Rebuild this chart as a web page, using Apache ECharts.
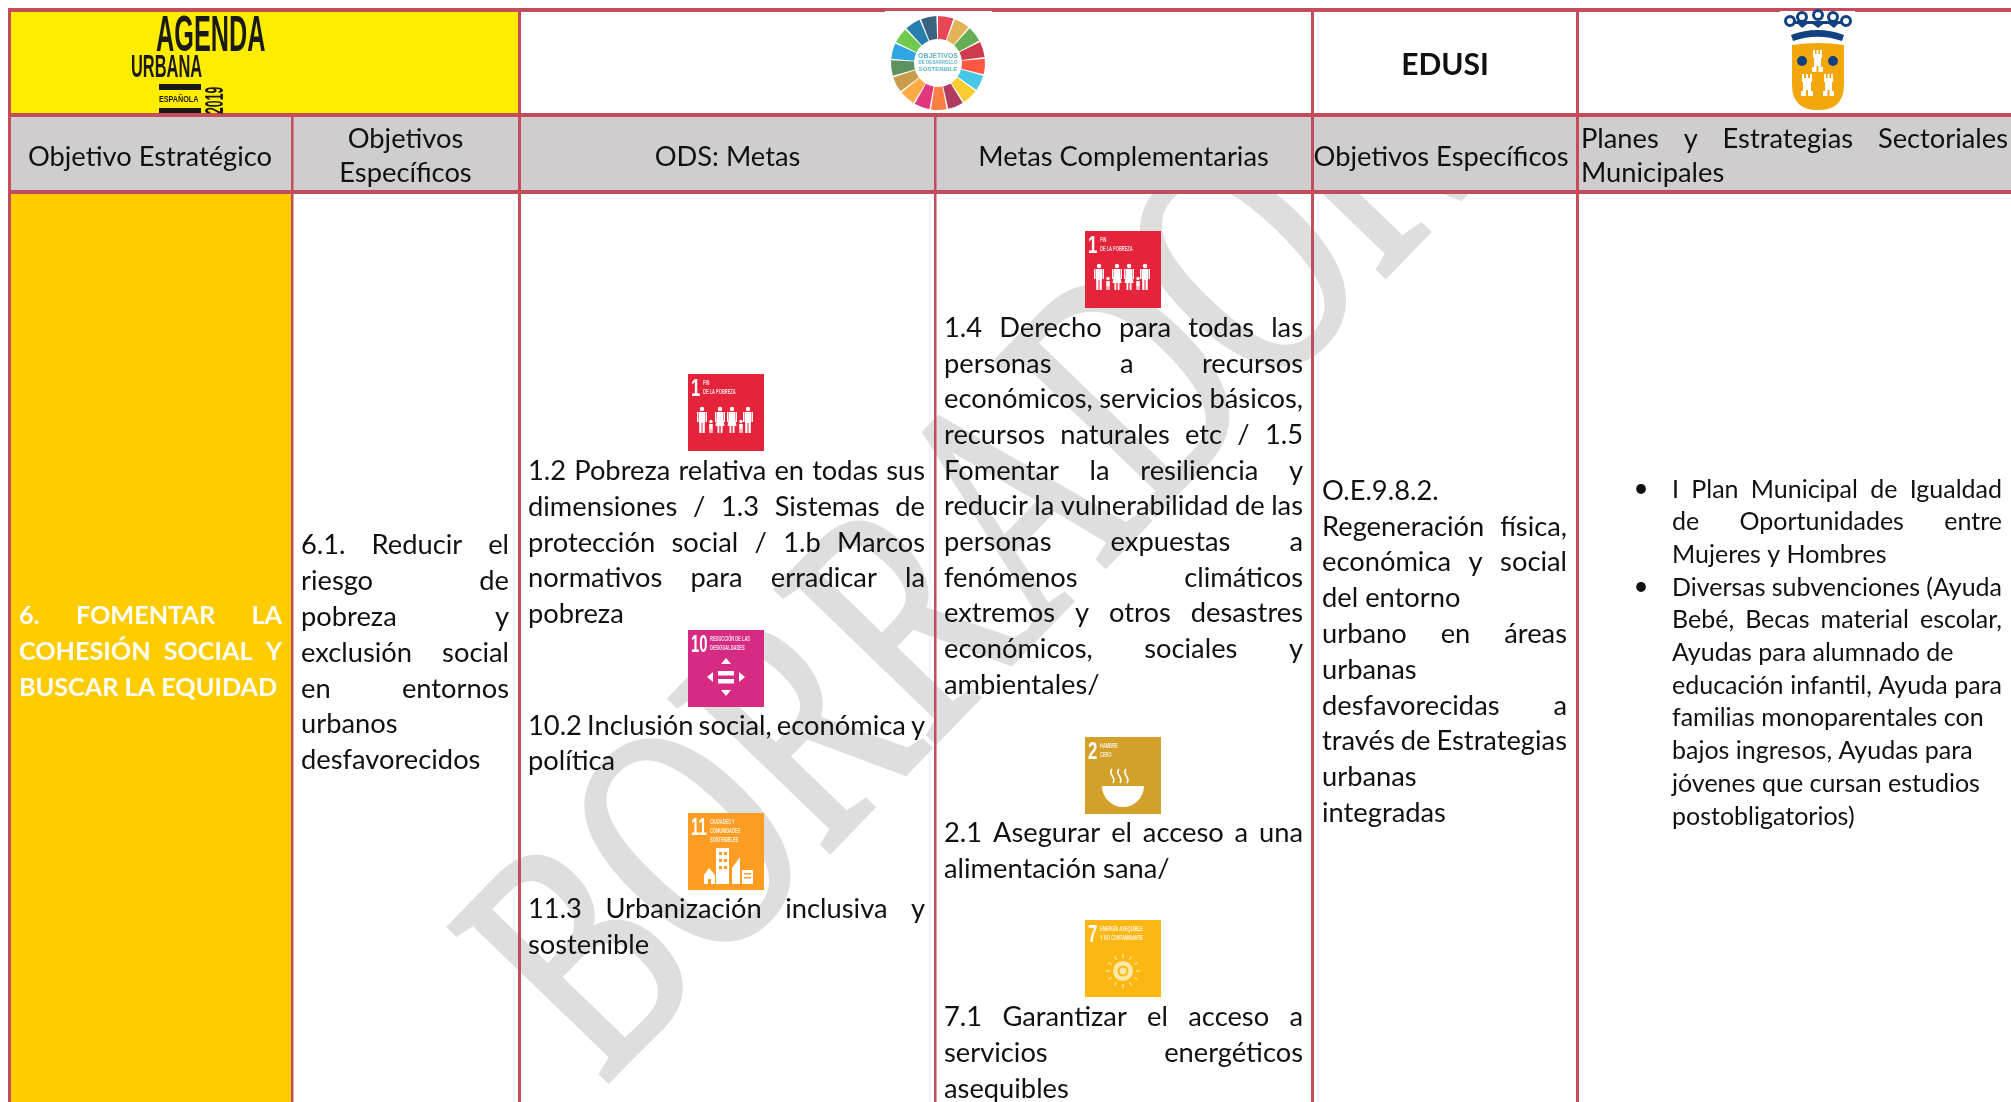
<!DOCTYPE html>
<html>
<head>
<meta charset="utf-8">
<title>Agenda Urbana</title>
<script src="https://cdn.jsdelivr.net/npm/echarts@6/dist/echarts.min.js"></script>
<style>
html, body { margin: 0; padding: 0; background: #fff; }
#chart { width: 2011px; height: 1102px; }
</style>
</head>
<body>
<div id="chart"></div>
<script>
// table texts
var watermarkText = 'BORRADOR';
var editionTitle = 'EDUSI';
var headerEstrategico = ['Objetivo Estratégico'];
var headerEspecificos = ['Objetivos', 'Específicos'];
var headerOds = ['ODS: Metas'];
var headerComplementarias = ['Metas Complementarias'];
var headerEdusi = ['Objetivos Específicos'];
var headerPlanes = ['Planes y Estrategias Sectoriales', 'Municipales'];

var estrategicoLines = ['6. FOMENTAR LA', 'COHESIÓN SOCIAL Y', 'BUSCAR LA EQUIDAD'];
var especificoLines = ['6.1. Reducir el', 'riesgo de', 'pobreza y', 'exclusión social', 'en entornos', 'urbanos', 'desfavorecidos'];
var odsLines1 = ['1.2 Pobreza relativa en todas sus', 'dimensiones / 1.3 Sistemas de', 'protección social / 1.b Marcos', 'normativos para erradicar la', 'pobreza'];
var odsLines10 = ['10.2 Inclusión social, económica y', 'política'];
var odsLines11 = ['11.3 Urbanización inclusiva y', 'sostenible'];
var compLines1 = ['1.4 Derecho para todas las', 'personas a recursos', 'económicos, servicios básicos,', 'recursos naturales etc / 1.5', 'Fomentar la resiliencia y', 'reducir la vulnerabilidad de las', 'personas expuestas a', 'fenómenos climáticos', 'extremos y otros desastres', 'económicos, sociales y', 'ambientales/'];
var compLines2 = ['2.1 Asegurar el acceso a una', 'alimentación sana/'];
var compLines7 = ['7.1 Garantizar el acceso a', 'servicios energéticos', 'asequibles'];
var edusiLines = ['O.E.9.8.2.', 'Regeneración física,', 'económica y social', 'del entorno', 'urbano en áreas', 'urbanas', 'desfavorecidas a', 'través de Estrategias', 'urbanas', 'integradas'];
var planesLines = ['I Plan Municipal de Igualdad', 'de Oportunidades entre', 'Mujeres y Hombres', 'Diversas subvenciones (Ayuda', 'Bebé, Becas material escolar,', 'Ayudas para alumnado de', 'educación infantil, Ayuda para', 'familias monoparentales con', 'bajos ingresos, Ayudas para', 'jóvenes que cursan estudios', 'postobligatorios)'];
// these lines end a paragraph or were set ragged in the original
var raggedLines = ['BUSCAR LA EQUIDAD', 'del entorno', 'urbanos', 'desfavorecidos', 'pobreza', 'política', 'sostenible', 'ambientales/', 'alimentación sana/', 'asequibles', 'O.E.9.8.2.', 'urbanas', 'integradas', 'Municipales', 'Mujeres y Hombres', 'postobligatorios)', 'Ayudas para alumnado de', 'familias monoparentales con', 'jóvenes que cursan estudios', 'bajos ingresos, Ayudas para'];

var sdgWheelColors = ['#E5243B', '#DDA63A', '#4C9F38', '#C5192D', '#FF3A21', '#26BDE2', '#FCC30B', '#A21942', '#FD6925', '#DD1367', '#FD9D24', '#BF8B2E', '#3F7E44', '#0A97D9', '#56C02B', '#00689D', '#19486A'];
var sdgWheelShares = [1, 1, 1, 1, 1, 1, 1, 1, 1, 1, 1, 1, 1, 1, 1, 1, 1];
var sdgIconNumbers = ['1', '10', '11', '1', '2', '7'];
var sdgIconTitles = [['FIN', 'DE LA POBREZA'], ['REDUCCIÓN DE LAS', 'DESIGUALDADES'], ['CIUDADES Y', 'COMUNIDADES', 'SOSTENIBLES'], ['FIN', 'DE LA POBREZA'], ['HAMBRE', 'CERO'], ['ENERGÍA ASEQUIBLE', 'Y NO CONTAMINANTE']];

// page layout
var W = 2011, H = 1102;
var FONT = 'Lato';
var BORDER = '#C44D5C';
var TEXT = '#111111';

var fills = [
	[11, 12, 2011, 113, '#FFFFFF'],
	[11, 12, 518, 113, '#FFED00'],
	[11, 117, 2011, 190, '#CFCDCD'],
	[11, 194, 291, 1102, '#FFCC00']
];
var borders = [
	[8, 8, 2011, 12],
	[8, 113, 2011, 117],
	[8, 190, 2011, 194],
	[8, 8, 11, 1102],
	[291, 113, 293.5, 1102],
	[518, 8, 521, 1102],
	[934, 113, 936.5, 1102],
	[1311, 8, 1314, 1102],
	[1576, 8, 1579, 1102]
];
// patches where the logos were pasted over the top border
var patches = [
	[885, 11, 992, 113, '#FFFFFF'],
	[1780, 11, 1855, 113, '#FFFFFF']
];
// x, y, colour of each goal tile
var iconPlaces = [
	[688, 374, '#E5243B', 'people'],
	[688, 630, '#D72A83', 'arrows'],
	[688, 813, '#FD9D24', 'city'],
	[1085, 231, '#E5243B', 'people'],
	[1085, 737, '#D3A029', 'bowl'],
	[1085, 920, '#FCB713', 'sun']
];

var BODY = 27.3;
var blocks = [
	{ lines: headerEstrategico, x0: 30, x1: 270, y: 157.5, align: 'center', size: BODY },
	{ lines: headerEspecificos, x0: 293, x1: 518, y: 139, step: 34, align: 'center', size: BODY },
	{ lines: headerOds, x0: 521, x1: 934, y: 157.5, align: 'center', size: BODY },
	{ lines: headerComplementarias, x0: 936, x1: 1311, y: 157.5, align: 'center', size: BODY },
	{ lines: headerEdusi, x0: 1310, x1: 1572, y: 157.5, align: 'center', size: BODY },
	{ lines: headerPlanes, x0: 1581, x1: 2008, y: 139, step: 34, size: BODY },
	{ lines: [editionTitle], x0: 1314, x1: 1576, y: 65, align: 'center', size: 30, weight: 'bold' },
	{ lines: estrategicoLines, x0: 19, x1: 282, y: 615.5, step: 36, size: 25.2, weight: 'bold', fill: '#FFFFFF' },
	{ lines: especificoLines, x0: 301, x1: 509, y: 545.5, step: 35.8, size: BODY },
	{ lines: odsLines1, x0: 528, x1: 925, y: 471.5, step: 35.6, size: BODY },
	{ lines: odsLines10, x0: 528, x1: 925, y: 726, step: 35.6, size: BODY },
	{ lines: odsLines11, x0: 528, x1: 925, y: 909.5, step: 35.6, size: BODY },
	{ lines: compLines1, x0: 944, x1: 1303, y: 328, step: 35.7, size: BODY },
	{ lines: compLines2, x0: 944, x1: 1303, y: 833.5, step: 35.6, size: BODY },
	{ lines: compLines7, x0: 944, x1: 1303, y: 1017.5, step: 35.8, size: BODY },
	{ lines: edusiLines, x0: 1322, x1: 1567, y: 491, step: 35.8, size: BODY },
	{ lines: planesLines, x0: 1672, x1: 2002, y: 489.5, step: 32.7, size: 25 },
	{ lines: ['•'], x0: 1636, x1: 1646, y: 489, align: 'center', size: 26 },
	{ lines: ['•'], x0: 1636, x1: 1646, y: 587, align: 'center', size: 26 }
];

var ctx = document.createElement('canvas').getContext('2d');

// split every line in words so justified lines can be spread over the cell
function layoutWords() {
	var out = [];
	blocks.forEach(function (b) {
		var font = (b.weight || 'normal') + ' ' + b.size + 'px ' + FONT;
		ctx.font = font;
		b.lines.forEach(function (line, i) {
			var words = line.split(' ');
			var widths = words.map(function (w) { return ctx.measureText(w).width; });
			var sum = widths.reduce(function (a, c) { return a + c; }, 0);
			var gap = ctx.measureText(' ').width;
			var x = b.x0;
			if (b.align === 'center') {
				x = (b.x0 + b.x1 - sum - gap * (words.length - 1)) / 2;
			} else if (raggedLines.indexOf(line) < 0 && words.length > 1) {
				gap = (b.x1 - b.x0 - sum) / (words.length - 1);
			}
			words.forEach(function (w, k) {
				out.push({ value: [x, b.y + i * (b.step || 0)], text: w, font: font, fill: b.fill || TEXT });
				x += widths[k] + gap;
			});
		});
	});
	return out;
}
var wordItems = layoutWords();

function rectItem(api) {
	var a = api.coord([api.value(0), api.value(1)]);
	var b = api.coord([api.value(2), api.value(3)]);
	return { x: a[0], y: a[1], width: b[0] - a[0], height: b[1] - a[1] };
}
function label(x, y, text, size, sx, sy, extra) {
	var o = {
		type: 'text', x: x, y: y, scaleX: sx || 1, scaleY: sy || 1,
		style: { text: text, font: 'bold ' + size + 'px "Liberation Sans"', fill: '#fff', textAlign: 'left', textVerticalAlign: 'top' }
	};
	for (var k in extra) { o[k] = extra[k]; }
	return o;
}
function r(x, y, w, h, fill) {
	return { type: 'rect', shape: { x: x, y: y, width: w, height: h }, style: { fill: fill || '#fff' } };
}
function c(x, y, rad, fill) {
	return { type: 'circle', shape: { cx: x, cy: y, r: rad }, style: { fill: fill || '#fff' } };
}
function tri(p, fill) {
	return { type: 'polygon', shape: { points: p }, style: { fill: fill || '#fff' } };
}

function drawPeople() {
	var out = [];
	// parents: head, torso and a widening skirt or two legs
	[[14, 0], [32, 1], [44, 1], [60, 0]].forEach(function (a) {
		var x = a[0];
		out.push(c(x, 35, 2.2));
		out.push(r(x - 3, 38, 6, 11));
		if (a[1]) {
			out.push(tri([[x - 2.5, 42], [x + 2.5, 42], [x + 4.5, 52], [x - 4.5, 52]]));
			out.push(r(x - 2.5, 52, 1.8, 7));
			out.push(r(x + 0.7, 52, 1.8, 7));
		} else {
			out.push(r(x - 2.8, 49, 2.3, 10));
			out.push(r(x + 0.5, 49, 2.3, 10));
		}
		out.push(r(x - 5, 38, 1.5, 10));
		out.push(r(x + 3.5, 38, 1.5, 10));
	});
	[23, 53].forEach(function (x) {
		out.push(c(x, 47.5, 1.7));
		out.push(r(x - 1.8, 50, 3.6, 5));
		out.push(r(x - 1.6, 55, 1.3, 4));
		out.push(r(x + 0.3, 55, 1.3, 4));
	});
	return out;
}
function drawArrows() {
	return [
		tri([[38, 28], [33, 34], [43, 34]]),
		tri([[38, 66], [33, 60], [43, 60]]),
		tri([[19, 47], [25, 42], [25, 52]]),
		tri([[57, 47], [51, 42], [51, 52]]),
		r(30, 41, 16, 4.5),
		r(30, 49, 16, 4.5)
	];
}
function drawCity() {
	return [
		r(28, 35, 13, 36),
		r(31, 39, 3, 3, '#FD9D24'), r(36, 39, 3, 3, '#FD9D24'),
		r(31, 46, 3, 3, '#FD9D24'), r(36, 46, 3, 3, '#FD9D24'),
		r(31, 53, 3, 3, '#FD9D24'), r(36, 53, 3, 3, '#FD9D24'),
		tri([[44, 71], [44, 55], [52, 44], [52, 71]]),
		r(54, 57, 11, 14),
		r(56, 60, 7, 1.5, '#FD9D24'), r(56, 64, 7, 1.5, '#FD9D24'),
		tri([[16, 62], [21, 55], [27, 62]]),
		r(16, 62, 11, 9),
		r(20, 66, 3, 5, '#FD9D24')
	];
}
function drawBowl() {
	var steam = [27, 34, 41].map(function (x) {
		return {
			type: 'bezierCurve',
			shape: { x1: x, y1: 32, cpx1: x - 5, cpy1: 37, cpx2: x + 5, cpy2: 40, x2: x + 1, y2: 46 },
			style: { stroke: '#fff', lineWidth: 1.6, fill: null }
		};
	});
	return steam.concat([
		{ type: 'sector', shape: { cx: 38, cy: 49, r: 21, r0: 0, startAngle: 0, endAngle: Math.PI }, style: { fill: '#fff' } }
	]);
}
function drawSun() {
	var out = [];
	for (var i = 0; i < 12; i++) {
		var a = i * Math.PI / 6;
		out.push({
			type: 'line',
			shape: { x1: 38 + 13 * Math.cos(a), y1: 51 + 13 * Math.sin(a), x2: 38 + 17 * Math.cos(a), y2: 51 + 17 * Math.sin(a) },
			style: { stroke: '#FCE8A8', lineWidth: 1.3 }
		});
	}
	out.push(c(38, 51, 10, '#FCE8A8'));
	out.push(c(38, 51, 5.5, '#FCB713'));
	out.push(c(38, 51, 3.5, '#FCE8A8'));
	return out;
}
var pictograms = { people: drawPeople, arrows: drawArrows, city: drawCity, bowl: drawBowl, sun: drawSun };

function renderIcon(params, api) {
	var place = iconPlaces[params.dataIndex];
	var p = api.coord([place[0], place[1]]);
	var num = sdgIconNumbers[params.dataIndex];
	var titles = sdgIconTitles[params.dataIndex];
	var kids = [r(0, 0, 76, 77, place[2])];
	var numW = num.length > 1 ? 18 : 11;
	kids.push(label(3, 3, num, 24, num.length > 1 ? 0.62 : 0.7, 1));
	titles.forEach(function (t, i) {
		kids.push({
			type: 'text', x: numW + 4, y: 5 + i * 9, scaleX: 0.5, scaleY: 1,
			style: { text: t, font: 'bold 8px "Liberation Sans"', fill: '#fff', opacity: 0.85, textAlign: 'left', textVerticalAlign: 'top' }
		});
	});
	kids = kids.concat(pictograms[place[3]]());
	return { type: 'group', x: p[0], y: p[1], children: kids };
}

function renderLogo(params, api) {
	var p = api.coord([0, 0]);
	var ink = '#1A1A18';
	function t(x, y, text, size, sx, extra) {
		var o = label(x, y, text, size, sx, 1, extra);
		o.style.fill = ink;
		return o;
	}
	return {
		type: 'group', x: p[0], y: p[1], children: [
			t(156, 12, 'AGENDA', 50, 0.505),
			t(131, 53, 'URBANA', 31, 0.53),
			r(159, 84, 42, 6, ink),
			r(159, 108, 42, 5, ink),
			t(159, 95, 'ESPAÑOLA', 9, 0.8),
			t(204, 114, '2019', 25, 0.49, { rotation: Math.PI / 2 })
		]
	};
}

function tower(x, y, w, h) {
	var out = [
		r(x + 2, y + 8, w - 4, h - 8),
		r(x, y + h - 5, w, 5),
		r(x + 1, y + 5, w - 2, 4),
		r(x + w / 2 - 1, y + h - 6, 2, 6, '#F2A80C')
	];
	[0, 1, 2].forEach(function (k) {
		out.push(r(x + 1 + k * (w - 4) / 2, y + 1, 2, 4));
	});
	return out;
}
function renderCrest(params, api) {
	var p = api.coord([1785, 10]);
	var blue = '#12417F';
	var kids = [];
	[[5, 11], [17, 7], [33, 5], [48, 7], [61, 11]].forEach(function (a) {
		kids.push({ type: 'circle', shape: { cx: a[0], cy: a[1], r: 4.5 }, style: { fill: '#fff', stroke: blue, lineWidth: 3 } });
	});
	kids.push(r(8, 11, 50, 3, blue));
	kids.push(tri([[11, 12], [17, 18], [25, 12], [33, 18], [41, 12], [49, 18], [55, 12]], blue));
	kids.push({
		type: 'path',
		shape: { pathData: 'M0 12 Q26 -4 52 12 L50 22 Q26 8 2 22 Z', x: 6, y: 20, width: 53, height: 11, layout: 'cover' },
		style: { fill: blue }
	});
	kids.push({
		type: 'path',
		shape: { pathData: 'M0 0 Q26 -4 52 0 V40 Q52 66 26 66 Q0 66 0 40 Z', x: 7, y: 33, width: 52, height: 67, layout: 'cover' },
		style: { fill: '#F2A80C' }
	});
	kids = kids.concat(tower(27, 39, 11, 23), tower(16, 63, 12, 23), tower(38, 63, 11, 23));
	kids.push(c(17, 51, 5, blue));
	kids.push(c(48, 51, 5, blue));
	return { type: 'group', x: p[0], y: p[1], children: kids };
}

function renderCentre(params, api) {
	var p = api.coord([938, 63]);
	function t(y, text, size) {
		return {
			type: 'text', x: 0, y: y,
			style: { text: text, font: 'bold ' + size + 'px "Liberation Sans"', fill: '#5FB4C8', textAlign: 'center', textVerticalAlign: 'middle' }
		};
	}
	return { type: 'group', x: p[0], y: p[1], children: [t(-7, 'OBJETIVOS', 7), t(0, 'DE DESARROLLO', 4.5), t(6, 'SOSTENIBLE', 6)] };
}

var chart = echarts.init(document.getElementById('chart'), null, { renderer: 'canvas' });
var hidden = { show: false };
chart.setOption({
	animation: false,
	backgroundColor: '#FFFFFF',
	grid: { left: 0, right: 0, top: 0, bottom: 0 },
	xAxis: { type: 'value', min: 0, max: W, axisLine: hidden, axisTick: hidden, axisLabel: hidden, splitLine: hidden },
	yAxis: { type: 'value', min: 0, max: H, inverse: true, axisLine: hidden, axisTick: hidden, axisLabel: hidden, splitLine: hidden },
	series: [
		{
			type: 'custom', silent: true, z: 1, clip: false,
			data: [[540, 1024]],
			renderItem: function (params, api) {
				var p = api.coord([api.value(0), api.value(1)]);
				return {
					type: 'text', x: p[0], y: p[1], rotation: 46 * Math.PI / 180, scaleX: 0.68,
					style: { text: watermarkText, font: '336px "Liberation Serif"', fill: '#DEDEDE', stroke: '#DEDEDE', lineWidth: 6, textAlign: 'left', textVerticalAlign: 'middle' }
				};
			}
		},
		{
			type: 'custom', silent: true, z: 2,
			data: fills,
			renderItem: function (params, api) {
				return { type: 'rect', shape: rectItem(api), style: { fill: fills[params.dataIndex][4] } };
			}
		},
		{
			type: 'custom', silent: true, z: 3,
			data: borders,
			renderItem: function (params, api) {
				return { type: 'rect', shape: rectItem(api), style: { fill: BORDER } };
			}
		},
		{
			type: 'custom', silent: true, z: 3,
			data: patches,
			renderItem: function (params, api) {
				return { type: 'rect', shape: rectItem(api), style: { fill: patches[params.dataIndex][4] } };
			}
		},
		{
			type: 'custom', silent: true, z: 4,
			data: wordItems.map(function (w) { return w.value; }),
			renderItem: function (params, api) {
				var w = wordItems[params.dataIndex];
				var p = api.coord([api.value(0), api.value(1)]);
				return {
					type: 'text', x: p[0], y: p[1],
					style: { text: w.text, font: w.font, fill: w.fill, textAlign: 'left', textVerticalAlign: 'middle' }
				};
			}
		},
		{
			type: 'custom', silent: true, z: 5,
			data: iconPlaces.map(function (p) { return [p[0], p[1]]; }),
			renderItem: renderIcon
		},
		{ type: 'custom', silent: true, z: 5, data: [[156, 12]], renderItem: renderLogo },
		{ type: 'custom', silent: true, z: 5, data: [[1785, 10]], renderItem: renderCrest },
		{
			type: 'pie', silent: true, z: 5, center: [938, 63], radius: [24, 47], startAngle: 91, padAngle: 2,
			label: hidden, labelLine: hidden,
			itemStyle: { opacity: 0.85 },
			data: sdgWheelShares.map(function (v, i) {
				return { value: v, itemStyle: { color: sdgWheelColors[i] } };
			})
		},
		{ type: 'custom', silent: true, z: 5, data: [[938, 63]], renderItem: renderCentre }
	]
});
</script>
</body>
</html>
